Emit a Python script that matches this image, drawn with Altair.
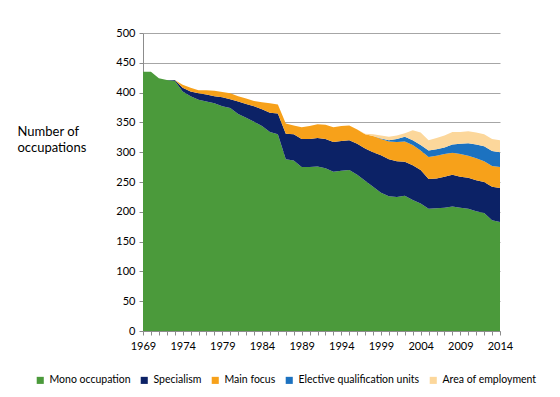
import altair as alt
import pandas as pd

years = list(range(1969, 2015))
series_names = ["Mono occupation", "Specialism", "Main focus",
                "Elective qualification units", "Area of employment"]

mono = [435, 435, 424, 421, 420, 402, 394, 388, 385, 382, 377, 374, 364, 358, 351, 344,
        334, 330, 288, 286, 275, 275, 276, 273, 267, 269, 270, 262, 252, 242, 232, 226,
        225, 227, 220, 214, 205, 206, 207, 209, 207, 205, 201, 198, 186, 183]
specialism = [0, 0, 0, 0, 1, 6, 8, 11, 12, 12, 15, 15, 21, 23, 26, 28,
              32, 35, 43, 44, 47, 47, 48, 49, 50, 50, 50, 52, 54, 58, 63, 62,
              60, 57, 58, 56, 50, 50, 52, 53, 52, 52, 52, 52, 56, 57]
main_focus = [0, 0, 0, 0, 0, 5, 6, 5, 7, 9, 9, 10, 9, 9, 9, 12,
              16, 15, 17, 15, 20, 22, 23, 24, 25, 25, 25, 24, 24, 27, 27, 30,
              32, 34, 34, 33, 37, 38, 38, 37, 38, 37, 37, 35, 35, 35]
elective = [0] * 30 + [1, 2, 5, 8, 8, 9, 11, 11, 11, 14, 17, 21, 23, 25, 25, 25]
area_emp = [0] * 28 + [1, 3, 5, 6, 6, 6, 17, 21, 17, 19, 20, 21, 20, 20, 20, 20, 20, 20]

colors = ["#4b9a3b", "#0c2266", "#f7a11a", "#1c72c0", "#fcd79b"]

rows = []
for i, name in enumerate(series_names):
    vals = [mono, specialism, main_focus, elective, area_emp][i]
    for y, v in zip(years, vals):
        rows.append({"Year": y, "Series": name, "Value": v, "order": i})
df = pd.DataFrame(rows)

FONT = "Lato"

chart = alt.Chart(df).mark_area(interpolate="linear", opacity=1).encode(
    x=alt.X("Year:Q",
            scale=alt.Scale(domain=[1969, 2014], nice=False, zero=False),
            axis=alt.Axis(values=years, format="d", title=None, grid=False,
                          labelExpr="(datum.value - 1969) % 5 == 0 ? datum.label : ''",
                          labelFlush=False, labelOverlap=False,
                          tickSize=4, labelFontSize=11, labelPadding=5,
                          labelColor="#000000", domainColor="#8c8c8c",
                          tickColor="#8c8c8c", labelFont=FONT)),
    y=alt.Y("Value:Q", stack="zero",
            scale=alt.Scale(domain=[0, 500], nice=False),
            axis=alt.Axis(values=list(range(0, 501, 50)),
                          title=["Number of", "occupations"], titleAngle=0,
                          titleAlign="left", titleBaseline="top",
                          titleX=-126, titleY=92, titleFontSize=13,
                          titleFontWeight="normal", titleFont=FONT,
                          titleLineHeight=16,
                          tickSize=4, labelFontSize=11, labelPadding=4,
                          labelFlush=False,
                          labelColor="#000000", domainColor="#8c8c8c",
                          tickColor="#8c8c8c", gridColor="#a6a6a6",
                          labelFont=FONT)),
    color=alt.Color("Series:N",
                    scale=alt.Scale(domain=series_names, range=colors),
                    legend=alt.Legend(title=None, orient="none", direction="horizontal",
                                      legendX=-108, legendY=342,
                                      symbolType="square", symbolSize=50,
                                      symbolStrokeWidth=0, labelFontSize=10.5,
                                      labelFont=FONT, columnPadding=8,
                                      labelOffset=4, labelLimit=300)),
    order=alt.Order("order:Q", sort="ascending"),
).properties(
    width=357, height=298,
    autosize=alt.AutoSizeParams(type="none"),
    padding={"left": 135, "top": 25, "right": 44, "bottom": 58},
).configure_view(stroke=None)

chart.save("out.html", embed_options={"renderer": "svg", "actions": False})
